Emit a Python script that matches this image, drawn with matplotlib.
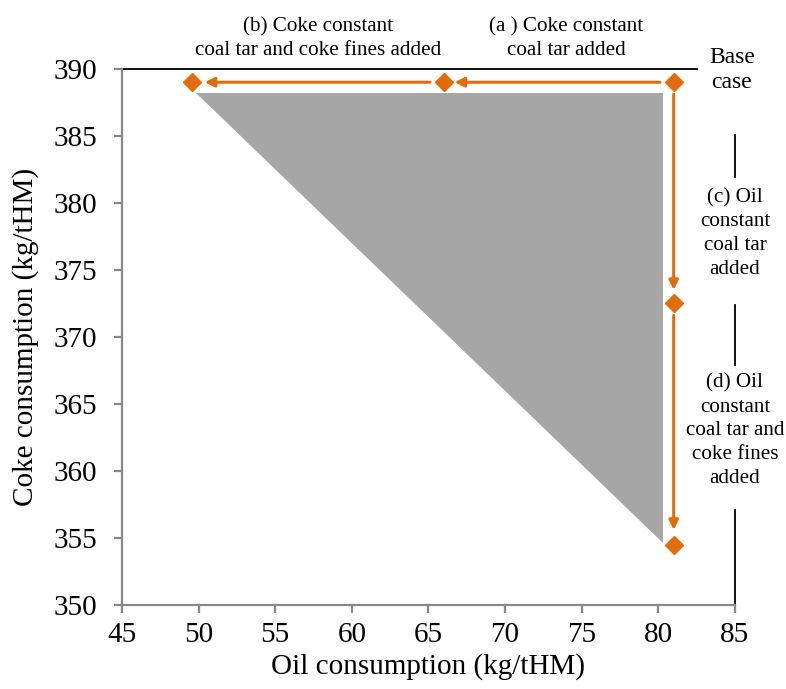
import matplotlib.pyplot as plt
import numpy as np

plt.rcParams['font.family'] = ['Liberation Serif', 'DejaVu Serif']

# 各工况点 (oil, coke)
oil = [81.0, 66.0, 49.6, 81.0, 81.0]
coke = [389.0, 389.0, 389.0, 372.5, 354.5]

# 可行区域 (灰色三角形)
region_oil = [49.8, 80.3, 80.3]
region_coke = [388.2, 388.2, 354.6]

# 箭头: 起点 -> 终点
arrow_start = [(80.1, 389.0), (65.1, 389.0), (81.0, 388.1), (81.0, 371.6)]
arrow_end = [(66.7, 389.0), (50.4, 389.0), (81.0, 373.5), (81.0, 355.6)]

x_ticks = np.arange(45, 86, 5)
y_ticks = np.arange(350, 391, 5)

orange = '#E36C0A'
gray = '#888888'

fig = plt.figure(figsize=(7.86, 6.89), dpi=100)
ax = fig.add_axes([0.1552, 0.1219, 0.7799, 0.7782])

ax.fill(region_oil, region_coke, color='#A6A6A6', lw=0, zorder=1)

for s, e in zip(arrow_start, arrow_end):
    ax.annotate('', xy=e, xytext=s,
                arrowprops=dict(arrowstyle='-|>', color=orange, lw=2.2,
                                mutation_scale=14, shrinkA=0, shrinkB=0),
                zorder=2)

ax.plot(oil, coke, ls='none', marker='D', ms=9, color=orange,
        mec=orange, zorder=3, clip_on=False)

ax.set_xlim(45, 85)
ax.set_ylim(350, 390)
ax.set_xticks(x_ticks)
ax.set_yticks(y_ticks)

for side in ['left', 'bottom']:
    ax.spines[side].set_color(gray)
    ax.spines[side].set_linewidth(1.6)
ax.spines['top'].set_visible(False)
ax.spines['right'].set_visible(False)
ax.tick_params(axis='both', direction='out', length=6, width=1.6,
               color=gray, labelsize=21)
ax.tick_params(axis='y', pad=12)
ax.tick_params(axis='x', pad=6)

# 顶部黑线和右侧黑线(被文字隔断)
ax.plot([45, 82.5], [390, 390], color='black', lw=1.3, clip_on=False)
for y0, y1 in [(385.1, 381.9), (372.4, 367.9), (357.1, 350)]:
    ax.plot([85, 85], [y0, y1], color='black', lw=1.3, clip_on=False)

ax.set_xlabel('Oil consumption (kg/tHM)', fontsize=21, labelpad=4)
ax.set_ylabel('Coke consumption (kg/tHM)', fontsize=21, labelpad=10)

kw = dict(fontsize=15.2, ha='center', va='center', linespacing=1.34)
ax.text(57.8, 392.25, '(b) Coke constant\ncoal tar and coke fines added', **kw)
ax.text(74.0, 392.25, '(a ) Coke constant\ncoal tar added', **kw)
ax.text(84.8, 389.9, 'Base\ncase', fontsize=17, ha='center', va='center',
        linespacing=1.25)
ax.text(85.0, 377.7, '(c) Oil\nconstant\ncoal tar\nadded', **kw)
ax.text(85.0, 363.0, '(d) Oil\nconstant\ncoal tar and\ncoke fines\nadded', **kw)

plt.savefig('out.png', dpi=100)
